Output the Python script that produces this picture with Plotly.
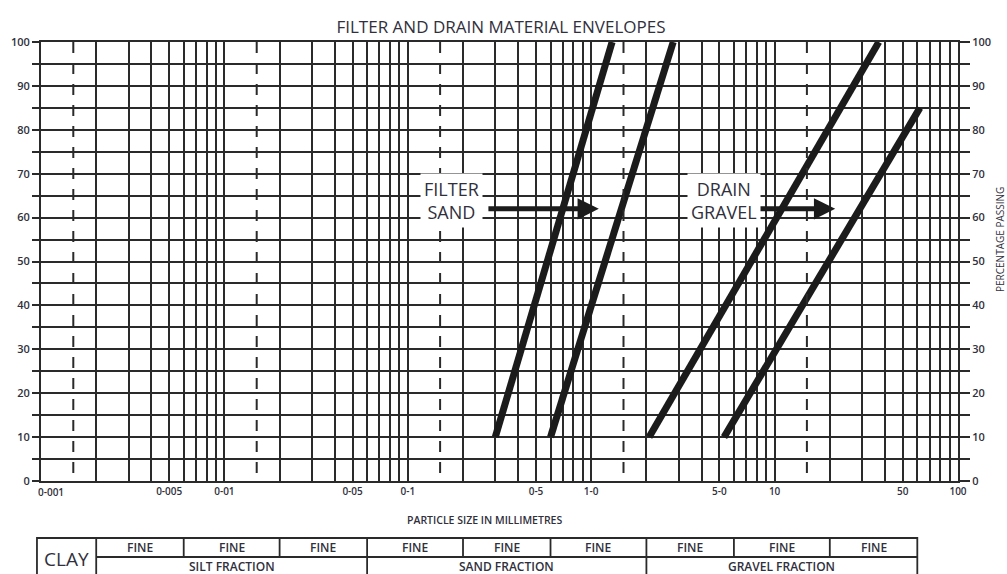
import math
import plotly.graph_objects as go

# Grading envelopes: particle size (mm) against percentage passing
filter_fine_x = [0.3, 1.3]
filter_fine_y = [10, 100]
filter_coarse_x = [0.6, 2.8]
filter_coarse_y = [10, 100]
drain_fine_x = [2.07, 37]
drain_fine_y = [10, 100]
drain_coarse_x = [5.3, 62]
drain_coarse_y = [10, 85]

# Dashed reference sizes, one per decade
dashed_sizes = [0.0015, 0.015, 0.15, 1.5, 15]

# Soil classification limits (mm) and their labels
fraction_limits = [0.002, 0.006, 0.02, 0.06, 0.2, 0.6, 2, 6, 20, 60]
sub_fraction_labels = ["FINE"] * 9
fraction_names = ["SILT FRACTION", "SAND FRACTION", "GRAVEL FRACTION"]

# Labelled particle sizes on the x axis
x_label_values = [0.001, 0.005, 0.01, 0.05, 0.1, 0.5, 1, 5, 10, 50, 100]
x_label_text = ["0-001", "0-005", "0-01", "0-05", "0-1", "0-5", "1-0", "5-0", "10", "50", "100"]

# Envelope call-outs: label, text position, arrow tail and head (mm), level (%)
callout_labels = ["FILTER<br>SAND", "DRAIN<br>GRAVEL"]
callout_text_x = [0.172, 5.3]
callout_tail_x = [0.27, 8.0]
callout_head_x = [1.1, 21.4]
callout_y = [62, 62]
callout_text_y = [64, 64]

FONT = "Open Sans, sans-serif"
TEXT = "#30303c"
GRID = "#2a2a2a"
INK = "#1b1b1b"
XMIN, XMAX = -3, 2

def xpaper(v):
    return (math.log10(v) - XMIN) / (XMAX - XMIN)

# every log grid line: 1..9 in each decade
grid_vals = []
for d in range(XMIN, XMAX):
    for m in range(1, 10):
        grid_vals.append(round(m * 10 ** d, 8))
grid_vals.append(100)

# the first label sits inside the frame, so it is drawn separately
first_label = x_label_text[0]
grid_text = []
for v in grid_vals:
    match = [t for lv, t in zip(x_label_values[1:], x_label_text[1:]) if abs(lv - v) < 1e-9]
    grid_text.append(match[0] if match else "")

fig = go.Figure()

# dashed reference lines
for s in dashed_sizes:
    fig.add_trace(go.Scatter(
        x=[s, s], y=[100, 0], mode="lines", yaxis="y2",
        line=dict(color=GRID, width=2, dash="11px,10px"),
        hoverinfo="skip", showlegend=False))

for xs, ys in [(filter_fine_x, filter_fine_y), (filter_coarse_x, filter_coarse_y),
               (drain_fine_x, drain_fine_y), (drain_coarse_x, drain_coarse_y)]:
    fig.add_trace(go.Scatter(x=xs, y=ys, mode="lines",
                             line=dict(color=INK, width=7),
                             showlegend=False))

tick_font = dict(family=FONT, size=11, color=TEXT, weight=600)
x_tick_font = dict(family=FONT, size=10, color=TEXT, weight=600)
axis_common = dict(
    range=[0, 100], dtick=10, tick0=0, ticks="outside", tickwidth=2,
    tickcolor=GRID, showline=True, linecolor=GRID, linewidth=2,
    zeroline=False, tickfont=tick_font, fixedrange=True,
)

fig.update_layout(
    width=1007, height=574,
    margin=dict(l=41, r=49, t=42, b=93),
    paper_bgcolor="white", plot_bgcolor="white",
    title=dict(text="FILTER AND DRAIN MATERIAL ENVELOPES",
               x=0.4975, xref="container", xanchor="center",
               y=0.953, yref="container", yanchor="middle",
               font=dict(family=FONT, size=17, color=TEXT)),
    xaxis=dict(type="log", range=[XMIN, XMAX], tickvals=grid_vals, ticktext=grid_text,
               ticks="", showgrid=True, gridcolor=GRID, gridwidth=2,
               showline=True, mirror=True, linecolor=GRID, linewidth=2,
               zeroline=False, tickfont=x_tick_font, tickangle=0, fixedrange=True),
    yaxis=dict(**axis_common, side="left", ticklen=7, showgrid=True,
               gridcolor=GRID, gridwidth=2,
               minor=dict(dtick=5, tick0=0, ticks="outside", ticklen=7, tickwidth=2,
                          tickcolor=GRID, showgrid=True, gridcolor=GRID, gridwidth=2)),
    yaxis2=dict(**axis_common, side="right", overlaying="y", ticklen=10, showgrid=False,
                minor=dict(dtick=5, tick0=0, ticks="outside", ticklen=10, tickwidth=2,
                           tickcolor=GRID)),
)

annotations = []
shapes = []

# first x label, kept inside the chart's left edge
annotations.append(dict(x=0, y=-0.025, xref="paper", yref="paper", text=first_label,
                        xanchor="left", yanchor="middle", xshift=-5, showarrow=False,
                        font=x_tick_font))

# call-out labels and arrows
for lab, tx, ty, tail, head, ay in zip(callout_labels, callout_text_x, callout_text_y,
                                       callout_tail_x, callout_head_x, callout_y):
    annotations.append(dict(
        x=math.log10(head), y=ay, xref="x", yref="y",
        ax=math.log10(tail), ay=ay, axref="x", ayref="y",
        showarrow=True, arrowhead=2, arrowsize=0.85, arrowwidth=5, arrowcolor=INK, text=""))
    annotations.append(dict(
        x=math.log10(tx), y=ty, xref="x", yref="y", text=lab, showarrow=False,
        xanchor="center", yanchor="middle",
        bgcolor="white", borderpad=3, align="center",
        font=dict(family=FONT, size=18, color=TEXT)))

# axis titles
annotations.append(dict(x=0.484, y=-0.0888, xref="paper", yref="paper",
                        xanchor="center", yanchor="middle",
                        text="PARTICLE SIZE IN MILLIMETRES", showarrow=False,
                        font=dict(family=FONT, size=10.5, color=TEXT, weight=600)))
annotations.append(dict(x=1.0, y=0.549, xref="paper", yref="paper",
                        xanchor="center", yanchor="middle", xshift=42,
                        text="PERCENTAGE PASSING", textangle=-90, showarrow=False,
                        font=dict(family=FONT, size=10, color=TEXT)))

# classification table under the chart
t_top, t_mid, t_bot = -0.1298, -0.1731, -0.24
t_left = -0.0044
line = dict(color=GRID, width=1.8)
x_lim = [xpaper(v) for v in fraction_limits]
shapes.append(dict(type="rect", xref="paper", yref="paper", x0=t_left, x1=x_lim[-1],
                   y0=t_bot, y1=t_top, line=line))
shapes.append(dict(type="line", xref="paper", yref="paper", x0=x_lim[0], x1=x_lim[-1],
                   y0=t_mid, y1=t_mid, line=line))
for i, xv in enumerate(x_lim[:-1]):
    major = i % 3 == 0
    shapes.append(dict(type="line", xref="paper", yref="paper", x0=xv, x1=xv,
                       y0=t_bot if major else t_mid, y1=t_top, line=line))

cell_font = dict(family=FONT, size=12, color=TEXT, weight=600)
for i, lab in enumerate(sub_fraction_labels):
    annotations.append(dict(x=(x_lim[i] + x_lim[i + 1]) / 2, y=(t_top + t_mid) / 2,
                            xref="paper", yref="paper", text=lab, showarrow=False,
                            xanchor="center", yanchor="middle", font=cell_font))
for j, name in enumerate(fraction_names):
    annotations.append(dict(x=(x_lim[3 * j] + x_lim[3 * j + 3]) / 2, y=-0.1957,
                            xref="paper", yref="paper", text=name, showarrow=False,
                            xanchor="center", yanchor="middle", font=cell_font))
annotations.append(dict(x=(t_left + x_lim[0]) / 2, y=-0.178, xref="paper", yref="paper",
                        text="CLAY", showarrow=False, xanchor="center", yanchor="middle",
                        font=dict(family=FONT, size=19, color=TEXT)))

fig.update_layout(annotations=annotations, shapes=shapes)

fig.write_html("out.html")
